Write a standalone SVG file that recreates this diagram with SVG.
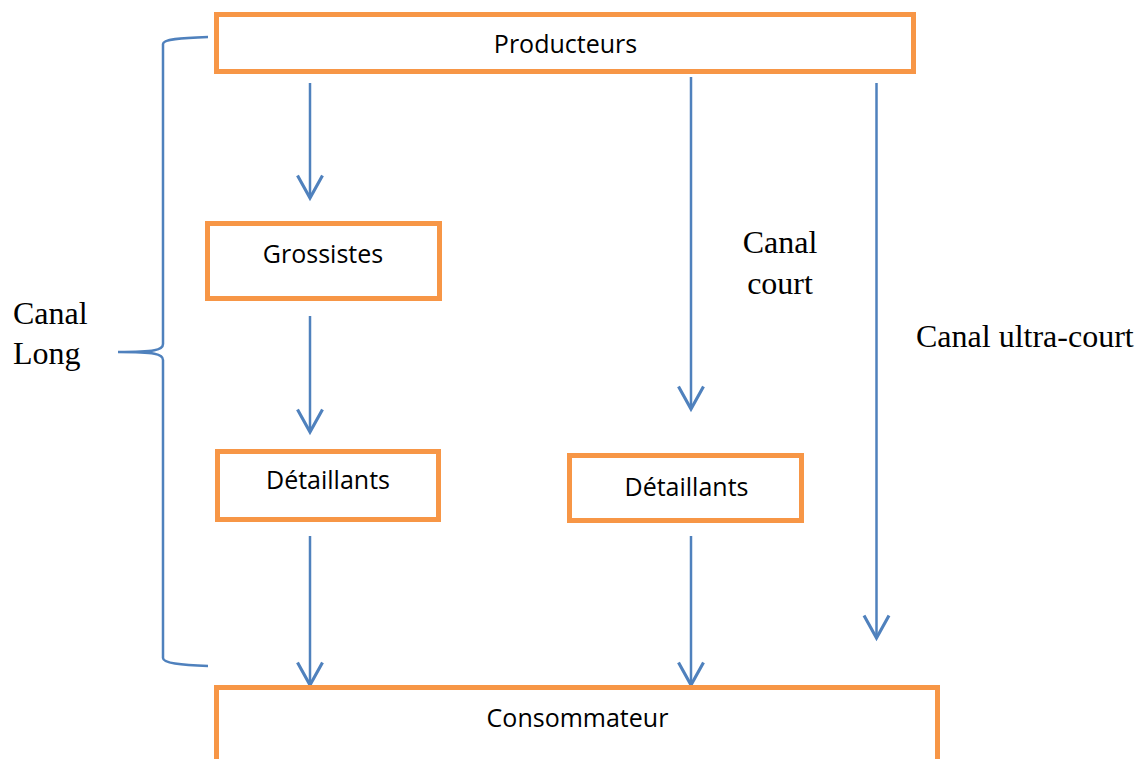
<svg xmlns="http://www.w3.org/2000/svg" width="1141" height="759" viewBox="0 0 1141 759">
<style>
.box{fill:#fff;stroke:#F79646;stroke-width:5;}
.lbl{font-family:"Open Sans","Liberation Sans",sans-serif;font-size:25px;fill:#000;text-anchor:middle;}
.conn{stroke:#4F81BD;stroke-width:2.5;fill:none;}
.ser{font-family:"Liberation Serif","Times New Roman",serif;font-size:32px;fill:#000;}
</style>
<defs>
<marker id="arr" markerUnits="userSpaceOnUse" orient="auto" markerWidth="30" markerHeight="30" refX="0" refY="0" viewBox="-20 -12 22 24" overflow="visible">
<path d="M-18,-10 L0,0 L-18,10" fill="none" stroke="#4F81BD" stroke-width="2.5"/>
</marker>
</defs>
<rect width="1141" height="759" fill="#fff"/>
<g id="connectors">
<line class="conn" x1="310" y1="83" x2="310" y2="198" marker-end="url(#arr)"/>
<line class="conn" x1="310" y1="316" x2="310" y2="432" marker-end="url(#arr)"/>
<line class="conn" x1="310" y1="536" x2="310" y2="685" marker-end="url(#arr)"/>
<line class="conn" x1="691" y1="77" x2="691" y2="409" marker-end="url(#arr)"/>
<line class="conn" x1="691" y1="536" x2="691" y2="685" marker-end="url(#arr)"/>
<line class="conn" x1="876.5" y1="83" x2="876.5" y2="638" marker-end="url(#arr)"/>
<path class="conn" d="M208,37 C180,38 163,39 163,44 L163,344 C163,350 155,352 118,352 C155,352 163,354 163,360 L163,658 C163,663 180,665 208,666"/>
</g>
<g id="producteurs">
<rect class="box" x="216.5" y="14.5" width="697" height="57"/>
<text class="lbl" x="565.5" y="53">Producteurs</text>
</g>
<g id="grossistes">
<rect class="box" x="207.5" y="223.5" width="232" height="75"/>
<text class="lbl" x="323" y="263">Grossistes</text>
</g>
<g id="detaillants1">
<rect class="box" x="217.5" y="451.5" width="221" height="68"/>
<text class="lbl" x="328" y="489">Détaillants</text>
</g>
<g id="detaillants2">
<rect class="box" x="569.5" y="455.5" width="232" height="65"/>
<text class="lbl" x="686.5" y="496">Détaillants</text>
</g>
<g id="consommateur">
<rect class="box" x="216.5" y="687.5" width="721" height="100"/>
<text class="lbl" x="577.5" y="727">Consommateur</text>
</g>
<g id="labels">
<text class="ser" x="13" y="324">Canal</text>
<text class="ser" x="13" y="364">Long</text>
<text class="ser" x="780" y="253" text-anchor="middle">Canal</text>
<text class="ser" x="780" y="294" text-anchor="middle">court</text>
<text class="ser" x="916" y="347">Canal ultra-court</text>
</g>
</svg>
